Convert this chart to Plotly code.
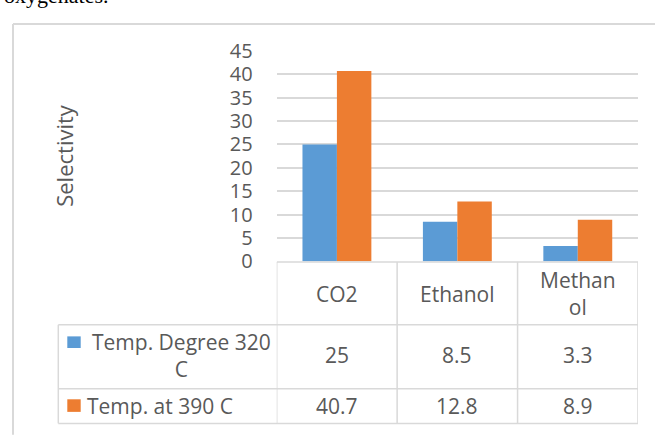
import plotly.graph_objects as go

# ---- data ----
categories = ["CO2", "Ethanol", "Methanol"]
header_labels = ["CO2", "Ethanol", "Methan<br>ol"]
series_names = ["Temp. Degree 320 C", "Temp. at 390 C"]
series_labels = ["Temp. Degree 320<br>C", "Temp. at 390 C"]
temp_320 = [25, 8.5, 3.3]
temp_390 = [40.7, 12.8, 8.9]
y_ticks = [0, 5, 10, 15, 20, 25, 30, 35, 40, 45]
colors = ["#5B9BD5", "#ED7D31"]
caption = "oxygenates."
y_title = "Selectivity"

W, H = 655, 443
def fx(p): return p / W
def fy(p): return 1 - p / H

GRID = "#D9D9D9"
TXT = "#595959"
FONT = "Open Sans"

fig = go.Figure()
for name, vals, col in zip(series_names, [temp_320, temp_390], colors):
    fig.add_trace(go.Bar(x=categories, y=vals, name=name, marker=dict(color=col, line=dict(width=0))))

shapes = []
def line(x0, y0, x1, y1, xref="paper", yref="paper", w=1.5, c=GRID):
    shapes.append(dict(type="line", x0=x0, y0=y0, x1=x1, y1=y1, xref=xref, yref=yref,
                       line=dict(color=c, width=w), layer="above"))

# outer chart border
line(fx(13), fy(10.7), fx(13), fy(H + 5), w=2)
line(fx(13), fy(10.7), fx(W + 5), fy(10.7), w=2)

# data table
row_header_top, row1_top, row2_top, table_bottom = 264, 331, 399, 436
n = len(categories)
line(-0.5, fy(row_header_top), n - 0.5, fy(row_header_top), xref="x")
for yy in [row1_top, row2_top, table_bottom]:
    line(fx(58.3), fy(yy), fx(638), fy(yy))
for i in range(n + 1):
    line(i - 0.5, fy(row_header_top), i - 0.5, fy(table_bottom), xref="x")
line(fx(58.3), fy(row1_top), fx(58.3), fy(table_bottom))

# legend keys in table
shapes.append(dict(type="rect", xref="paper", yref="paper", x0=fx(67.3), x1=fx(80.7),
                   y0=fy(355.7), y1=fy(343.3), fillcolor=colors[0], line=dict(width=0)))
shapes.append(dict(type="rect", xref="paper", yref="paper", x0=fx(67.3), x1=fx(80.7),
                   y0=fy(423.7), y1=fy(410.3), fillcolor=colors[1], line=dict(width=0)))

ann = []
f = dict(family=FONT, size=21, color=TXT)
for i, lab in enumerate(header_labels):
    ann.append(dict(x=i, y=fy(298), xref="x", yref="paper", text=lab, showarrow=False,
                    font=f, xanchor="center", yanchor="middle", align="center"))
for i, v in enumerate(temp_320):
    ann.append(dict(x=i, y=fy(363.5), xref="x", yref="paper", text=str(v), showarrow=False,
                    font=f, xanchor="center", yanchor="middle"))
for i, v in enumerate(temp_390):
    ann.append(dict(x=i, y=fy(417), xref="x", yref="paper", text=str(v), showarrow=False,
                    font=f, xanchor="center", yanchor="middle"))
ann.append(dict(x=fx(181.5), y=fy(364), xref="paper", yref="paper", text=series_labels[0],
                showarrow=False, font=f, xanchor="center", yanchor="middle", align="center"))
ann.append(dict(x=fx(85), y=fy(417), xref="paper", yref="paper", text=series_labels[1],
                showarrow=False, font=f, xanchor="left", yanchor="middle", align="left"))
ann.append(dict(x=fx(64), y=fy(151), xref="paper", yref="paper", text=y_title, textangle=-90,
                showarrow=False, font=dict(family=FONT, size=22, color=TXT),
                xanchor="center", yanchor="middle"))
ann.append(dict(x=fx(2), y=fy(-4), xref="paper", yref="paper", text=caption, showarrow=False,
                font=dict(family="Liberation Serif", size=22, color="#000000"),
                xanchor="left", yanchor="bottom"))

fig.update_layout(
    width=W, height=H, margin=dict(l=0, r=0, t=0, b=0),
    paper_bgcolor="white", plot_bgcolor="white",
    barmode="group", bargap=0.428, bargroupgap=0,
    showlegend=False,
    shapes=shapes, annotations=ann,
    xaxis=dict(domain=[fx(276.7), fx(638)], range=[-0.5, n - 0.5], showticklabels=False,
               showgrid=False, zeroline=False, showline=False, ticks=""),
    yaxis=dict(domain=[fy(263.5), fy(39.3)], range=[0, 45], tickvals=y_ticks,
               showgrid=True, gridcolor=GRID, gridwidth=1.5, zeroline=False, showline=False,
               tickfont=dict(family=FONT, size=20, color=TXT), ticks="", ticklabelstandoff=23),
)

fig.write_html("out.html", config={"displayModeBar": False},
               post_script="document.body.style.margin='0';document.body.style.padding='0';")
